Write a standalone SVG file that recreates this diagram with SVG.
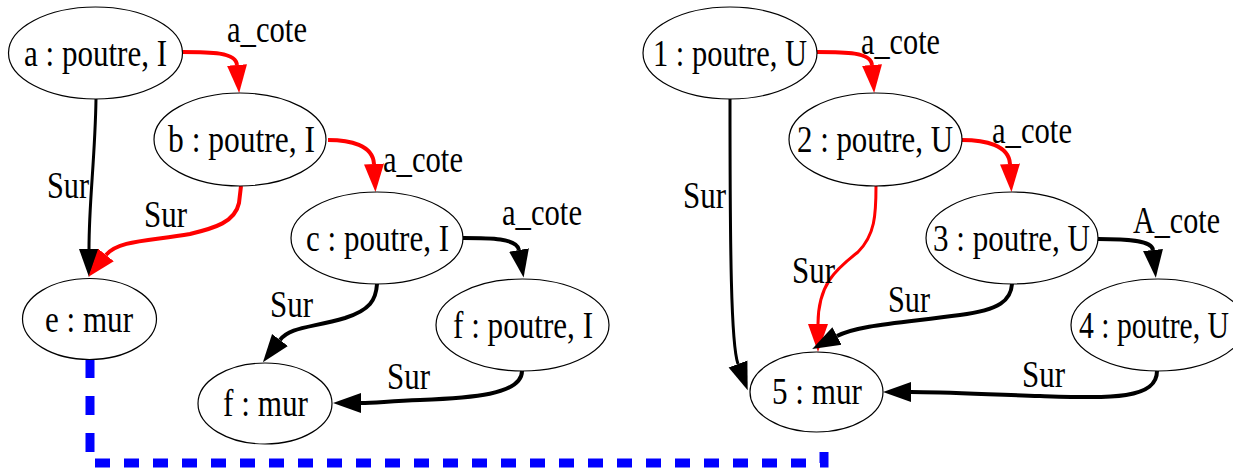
<svg xmlns="http://www.w3.org/2000/svg" width="1233" height="471" viewBox="0 0 1233 471">
<defs>
<style>
.n ellipse{fill:#fff;stroke:#000;stroke-width:1.2}
text{font-family:"Liberation Serif","Times New Roman",serif;font-size:38px;fill:#000}
.c{text-anchor:middle}
.e{fill:none;stroke-width:4}
.r{stroke:#f00}
.k{stroke:#000}
.thin{stroke-width:3}
.ra{marker-end:url(#ar)}
.ka{marker-end:url(#ak)}
.blue{fill:none;stroke:#00f;stroke-width:9}
</style>
<marker id="ar" markerUnits="userSpaceOnUse" markerWidth="30" markerHeight="22" refX="0" refY="10" orient="auto" viewBox="0 0 30 20"><path d="M0,0 L28,10 L0,20 z" fill="#f00"/></marker>
<marker id="ak" markerUnits="userSpaceOnUse" markerWidth="30" markerHeight="22" refX="0" refY="10" orient="auto" viewBox="0 0 30 20"><path d="M0,0 L28,10 L0,20 z" fill="#000"/></marker>
</defs>
<g id="connectors">
<path class="blue" d="M90,359 L90,463" stroke-dasharray="19 18"/>
<path class="blue" d="M95,463 L824,463 L824,447" stroke-dasharray="15 14"/>
<path class="e r ra" d="M182,52 C210,52 236,52 237,65"/>
<path class="e r ra" d="M328,140 C350,140 373,145 374,164"/>
<path class="e k ka" d="M463,238 C490,238 517,238 519,250"/>
<path class="e r ra" d="M817,52 C845,52 871,52 872,65"/>
<path class="e r ra" d="M962,140 C985,140 1009,145 1010,164"/>
<path class="e k ka" d="M1098,239 C1125,239 1152,240 1153,250"/>
<path class="e k thin ka" d="M96,99 C95,160 89,200 89,249"/>
<path class="e r ra" d="M241,186 L239,203 C235,222 215,228 190,234 C150,241 118,240 106,255"/>
<path class="e k ka" d="M377,284 C376,300 370,310 345,318 C310,328 290,327 280,340"/>
<path class="e k ka" d="M522,371 C522,395 470,398 420,400 C390,401 375,403 361,403"/>
<path class="e k thin ka" d="M730,99 C730,250 731,345 738,364"/>
<path class="e r thin ra" d="M876,186 C876,215 875,235 858,252 C835,270 818,285 818,324"/>
<path class="e k ka" d="M1012,284 C1011,300 1000,310 960,315 C900,323 858,325 837,336"/>
<path class="e k ka" d="M1157,371 C1157,400 1110,398 1040,396 C980,394 940,392 911,392"/>
<text x="227" y="42" textLength="80" lengthAdjust="spacingAndGlyphs">a_cote</text>
<text x="383" y="172" textLength="80" lengthAdjust="spacingAndGlyphs">a_cote</text>
<text x="502" y="225" textLength="80" lengthAdjust="spacingAndGlyphs">a_cote</text>
<text x="861" y="54" textLength="79" lengthAdjust="spacingAndGlyphs">a_cote</text>
<text x="992" y="143" textLength="80" lengthAdjust="spacingAndGlyphs">a_cote</text>
<text x="1133" y="233" textLength="87" lengthAdjust="spacingAndGlyphs">A_cote</text>
<text x="47" y="198" textLength="42" lengthAdjust="spacingAndGlyphs">Sur</text>
<text x="144" y="227" textLength="43" lengthAdjust="spacingAndGlyphs">Sur</text>
<text x="270" y="317" textLength="43" lengthAdjust="spacingAndGlyphs">Sur</text>
<text x="387" y="389" textLength="43" lengthAdjust="spacingAndGlyphs">Sur</text>
<text x="683" y="208" textLength="43" lengthAdjust="spacingAndGlyphs">Sur</text>
<text x="792" y="283" textLength="43" lengthAdjust="spacingAndGlyphs">Sur</text>
<text x="888" y="312" textLength="42" lengthAdjust="spacingAndGlyphs">Sur</text>
<text x="1022" y="387" textLength="43" lengthAdjust="spacingAndGlyphs">Sur</text>
</g>
<g id="node-a" class="n"><ellipse cx="95.5" cy="53" rx="87" ry="46"/><text class="c" x="95.5" y="66" textLength="143" lengthAdjust="spacingAndGlyphs">a : poutre, I</text></g>
<g id="node-b" class="n"><ellipse cx="240" cy="139.5" rx="86" ry="46.5"/><text class="c" x="241.5" y="152" textLength="147" lengthAdjust="spacingAndGlyphs">b : poutre, I</text></g>
<g id="node-c" class="n"><ellipse cx="377" cy="238" rx="86" ry="46"/><text class="c" x="377.5" y="251" textLength="143" lengthAdjust="spacingAndGlyphs">c : poutre, I</text></g>
<g id="node-e" class="n"><ellipse cx="89.5" cy="319" rx="67" ry="40.5"/><text class="c" x="89" y="332" textLength="88" lengthAdjust="spacingAndGlyphs">e : mur</text></g>
<g id="node-f-poutre" class="n"><ellipse cx="522.5" cy="325" rx="86.5" ry="46"/><text class="c" x="523" y="338" textLength="140" lengthAdjust="spacingAndGlyphs">f : poutre, I</text></g>
<g id="node-f-mur" class="n"><ellipse cx="265" cy="403.5" rx="67" ry="40.5"/><text class="c" x="265.5" y="416" textLength="85" lengthAdjust="spacingAndGlyphs">f : mur</text></g>
<g id="node-1" class="n"><ellipse cx="730" cy="53" rx="87" ry="46"/><text class="c" x="730" y="66" textLength="154" lengthAdjust="spacingAndGlyphs">1 : poutre, U</text></g>
<g id="node-2" class="n"><ellipse cx="875.5" cy="139.5" rx="86.5" ry="46.5"/><text class="c" x="875" y="152" textLength="156" lengthAdjust="spacingAndGlyphs">2 : poutre, U</text></g>
<g id="node-3" class="n"><ellipse cx="1012" cy="238" rx="86" ry="46"/><text class="c" x="1011.5" y="251" textLength="157" lengthAdjust="spacingAndGlyphs">3 : poutre, U</text></g>
<g id="node-4" class="n"><ellipse cx="1158" cy="325" rx="87" ry="46"/><text x="1079" y="338" textLength="150" lengthAdjust="spacingAndGlyphs">4 : poutre, U</text></g>
<g id="node-5" class="n"><ellipse cx="816.5" cy="392" rx="66.5" ry="40"/><text class="c" x="817" y="404" textLength="90" lengthAdjust="spacingAndGlyphs">5 : mur</text></g>
</svg>
